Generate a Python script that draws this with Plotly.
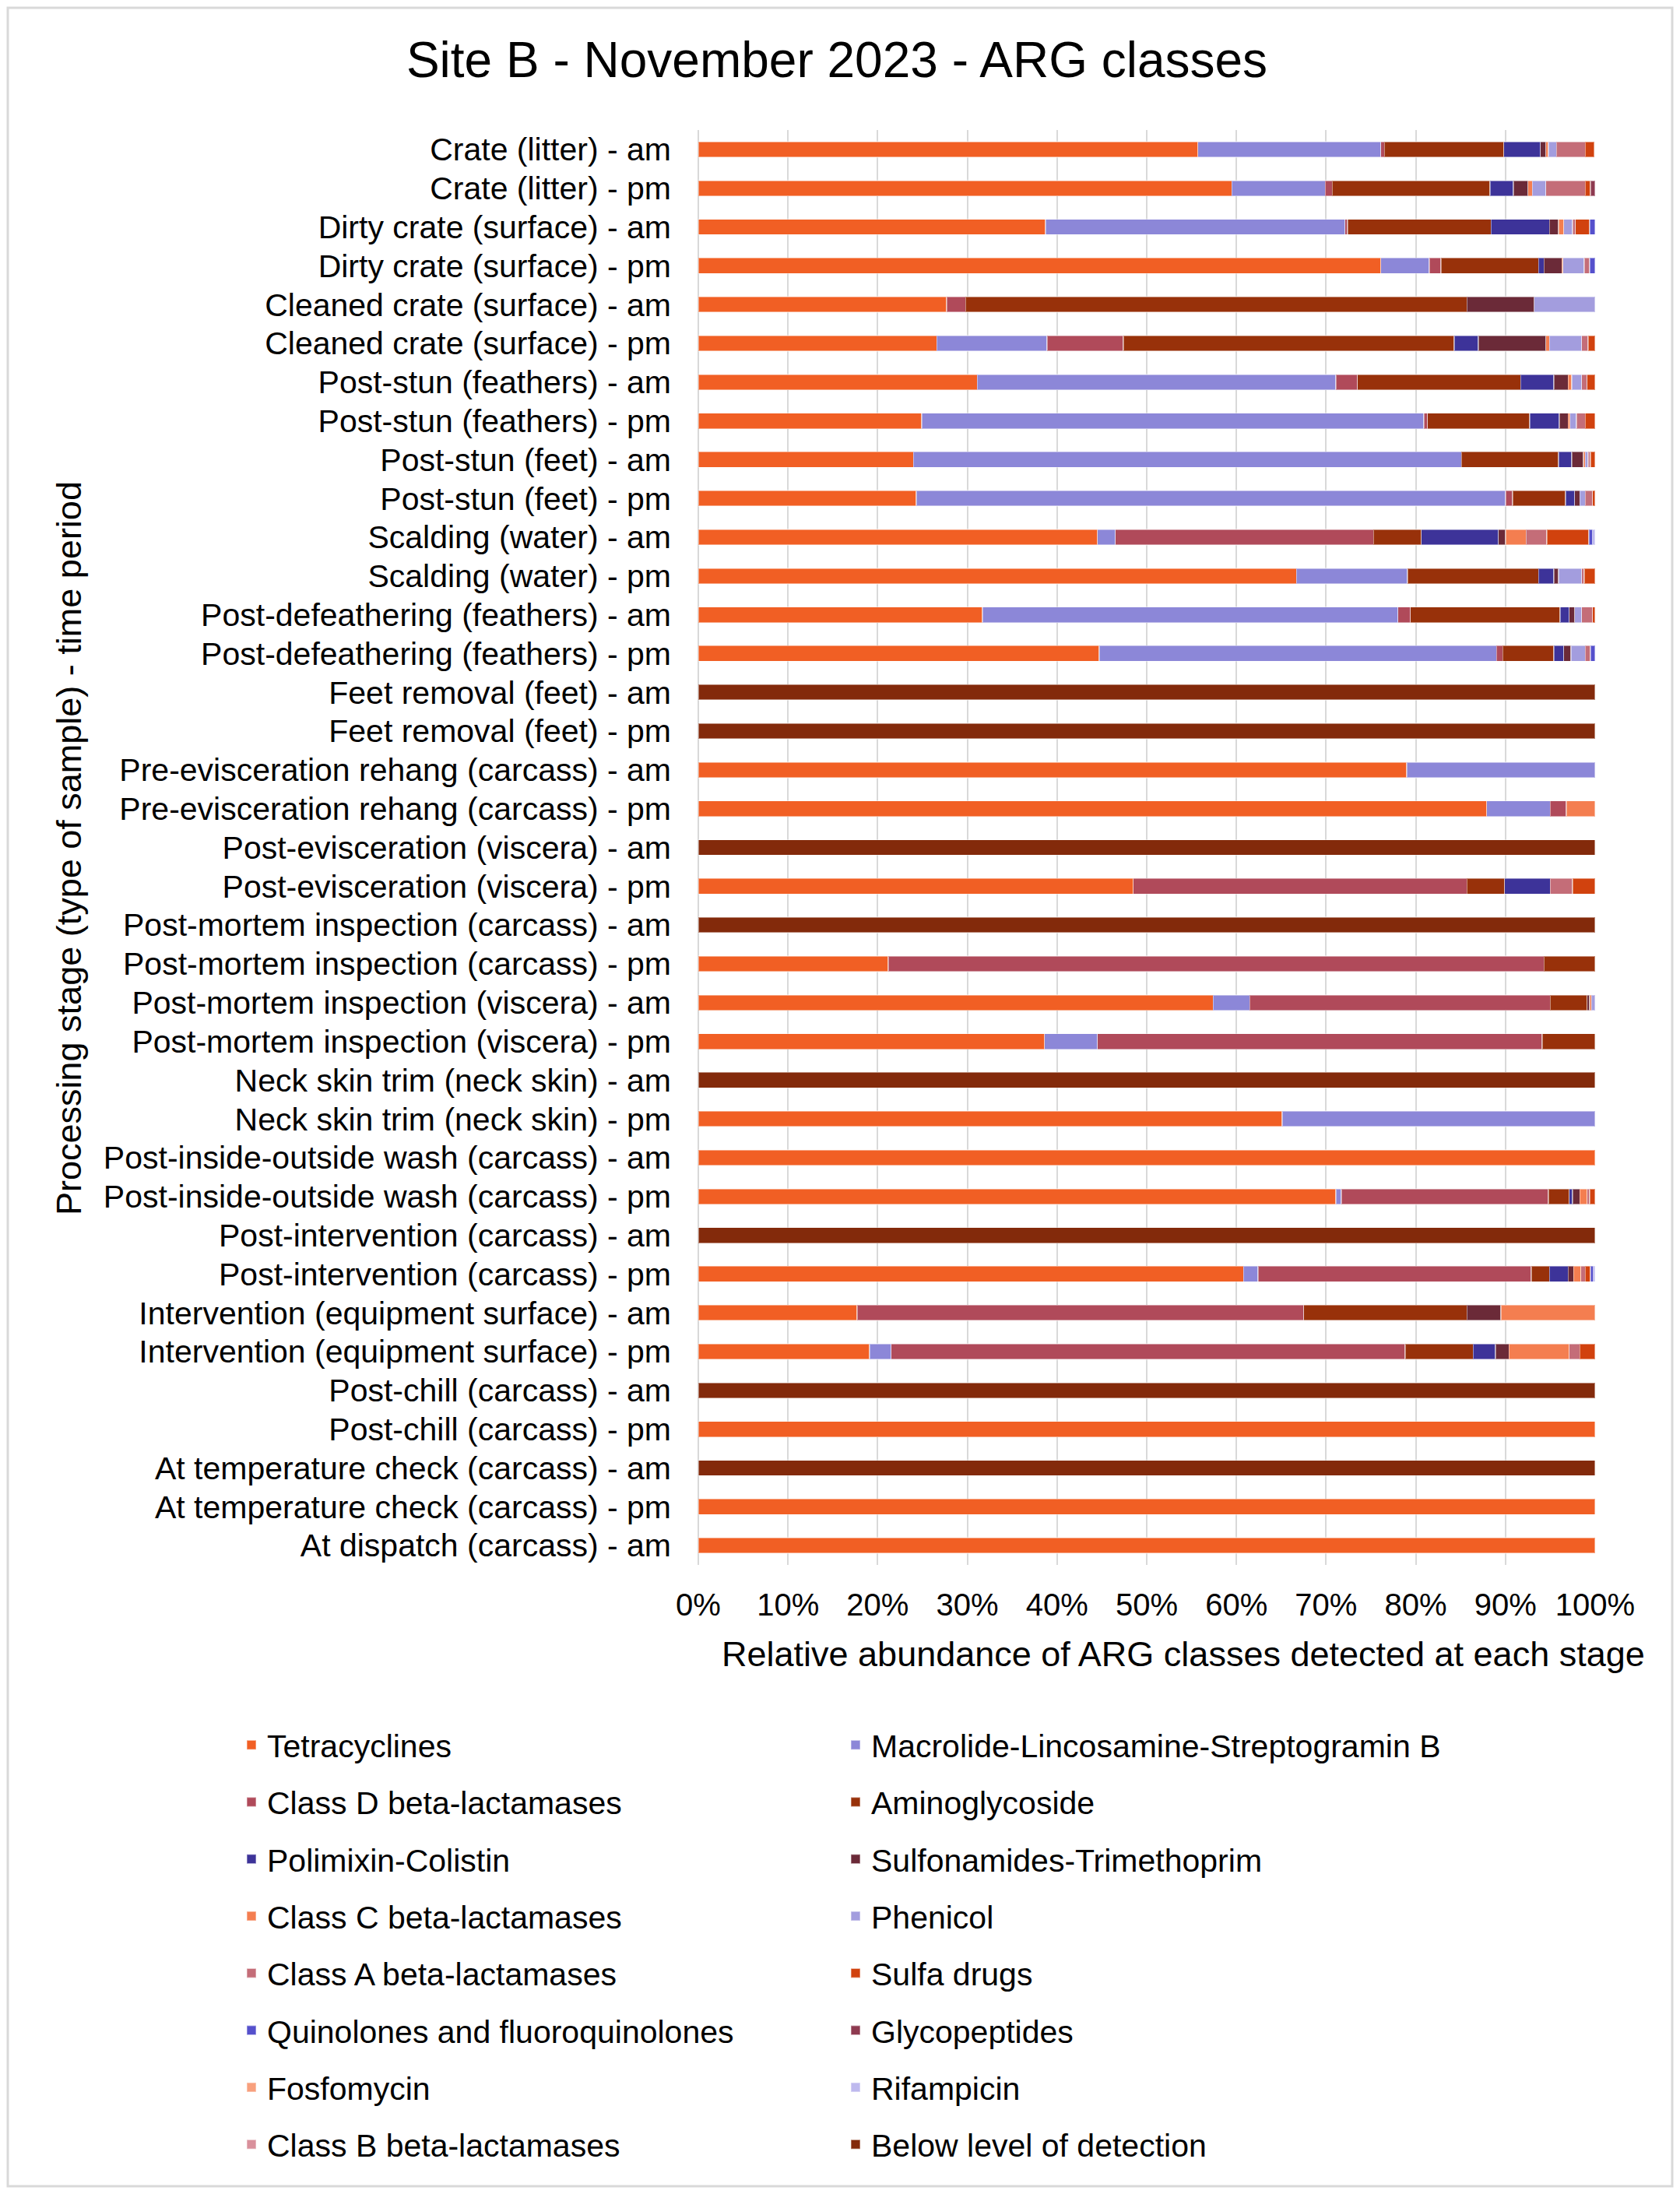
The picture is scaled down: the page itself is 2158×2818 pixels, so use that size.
import plotly.graph_objects as go

stages = [
    "Crate (litter) - am", "Crate (litter) - pm",
    "Dirty crate (surface) - am", "Dirty crate (surface) - pm",
    "Cleaned crate (surface) - am", "Cleaned crate (surface) - pm",
    "Post-stun (feathers) - am", "Post-stun (feathers) - pm",
    "Post-stun (feet) - am", "Post-stun (feet) - pm",
    "Scalding (water) - am", "Scalding (water) - pm",
    "Post-defeathering (feathers) - am", "Post-defeathering (feathers) - pm",
    "Feet removal (feet) - am", "Feet removal (feet) - pm",
    "Pre-evisceration rehang (carcass) - am", "Pre-evisceration rehang (carcass) - pm",
    "Post-evisceration (viscera) - am", "Post-evisceration (viscera) - pm",
    "Post-mortem inspection (carcass) - am", "Post-mortem inspection (carcass) - pm",
    "Post-mortem inspection (viscera) - am", "Post-mortem inspection (viscera) - pm",
    "Neck skin trim (neck skin) - am", "Neck skin trim (neck skin) - pm",
    "Post-inside-outside wash (carcass) - am", "Post-inside-outside wash (carcass) - pm",
    "Post-intervention (carcass) - am", "Post-intervention (carcass) - pm",
    "Intervention (equipment surface) - am", "Intervention (equipment surface) - pm",
    "Post-chill (carcass) - am", "Post-chill (carcass) - pm",
    "At temperature check (carcass) - am", "At temperature check (carcass) - pm",
    "At dispatch (carcass) - am",
]

tetracyclines = [55.7, 59.5, 38.7, 76.1, 27.7, 26.6, 31.1, 24.9, 24.0, 24.3, 44.5, 66.7, 31.7, 44.7, 0, 0, 79.0, 87.9, 0, 48.5, 0, 21.2, 57.4, 38.6, 0, 65.1, 100, 71.1, 0, 60.8, 17.7, 19.1, 0, 100, 0, 100, 100]
mlsb = [20.4, 10.4, 33.4, 5.4, 0, 12.3, 40.0, 56.0, 61.1, 65.7, 2.0, 12.4, 46.3, 44.3, 0, 0, 21.0, 7.1, 0, 0, 0, 0, 4.1, 5.9, 0, 34.9, 0, 0.6, 0, 1.6, 0, 2.4, 0, 0, 0, 0, 0]
class_d = [0.4, 0.8, 0.3, 1.3, 2.1, 8.5, 2.4, 0.4, 0, 0.8, 28.8, 0, 1.4, 0.7, 0, 0, 0, 1.8, 0, 37.2, 0, 73.1, 33.5, 49.6, 0, 0, 0, 23.1, 0, 30.5, 49.8, 57.3, 0, 0, 0, 0, 0]
aminoglycoside = [13.3, 17.6, 16.0, 10.9, 55.9, 36.9, 18.2, 11.4, 10.8, 5.9, 5.3, 14.6, 16.7, 5.7, 0, 0, 0, 0, 0, 4.2, 0, 5.7, 4.1, 5.9, 0, 0, 0, 2.3, 0, 2.0, 18.2, 7.6, 0, 0, 0, 0, 0]
polimixin = [4.1, 2.6, 6.5, 0.6, 0, 2.7, 3.7, 3.3, 1.5, 1.0, 8.6, 1.7, 1.0, 1.1, 0, 0, 0, 0, 0, 5.1, 0, 0, 0, 0, 0, 0, 0, 0.4, 0, 2.1, 0, 2.5, 0, 0, 0, 0, 0]
sulfonamides = [0.6, 1.6, 1.0, 2.0, 7.5, 7.5, 1.6, 1.0, 1.3, 0.6, 0.8, 0.5, 0.6, 0.8, 0, 0, 0, 0, 0, 0, 0, 0, 0.3, 0, 0, 0, 0, 0.8, 0, 0.6, 3.8, 1.5, 0, 0, 0, 0, 0]
class_c = [0.3, 0.5, 0.6, 0.1, 0, 0.4, 0.4, 0.2, 0.2, 0, 2.3, 0, 0, 0, 0, 0, 0, 3.2, 0, 0, 0, 0, 0.2, 0, 0, 0, 0, 0.8, 0, 0.8, 10.5, 6.7, 0, 0, 0, 0, 0]
phenicol = [0.9, 1.5, 1.0, 2.4, 6.8, 3.6, 1.1, 0.7, 0.3, 0.6, 0, 2.6, 0.8, 1.6, 0, 0, 0, 0, 0, 0, 0, 0, 0.4, 0, 0, 0, 0, 0, 0, 0, 0, 0, 0, 0, 0, 0, 0]
class_a = [3.2, 4.4, 0.3, 0.6, 0, 0.7, 0.6, 1.0, 0.3, 0.8, 2.3, 0.3, 1.2, 0.6, 0, 0, 0, 0, 0, 2.5, 0, 0, 0, 0, 0, 0, 0, 0.3, 0, 0.5, 0, 1.2, 0, 0, 0, 0, 0]
sulfa_drugs = [1.0, 0.6, 1.6, 0, 0, 0.8, 0.9, 1.1, 0.5, 0.3, 4.7, 1.2, 0.3, 0, 0, 0, 0, 0, 0, 2.5, 0, 0, 0, 0, 0, 0, 0, 0.6, 0, 0.6, 0, 1.7, 0, 0, 0, 0, 0]
quinolones = [0, 0, 0.6, 0.6, 0, 0, 0, 0, 0, 0, 0.4, 0, 0, 0.5, 0, 0, 0, 0, 0, 0, 0, 0, 0, 0, 0, 0, 0, 0, 0, 0.3, 0, 0, 0, 0, 0, 0, 0]
glycopeptides = [0, 0.5, 0, 0, 0, 0, 0, 0, 0, 0, 0, 0, 0, 0, 0, 0, 0, 0, 0, 0, 0, 0, 0, 0, 0, 0, 0, 0, 0, 0, 0, 0, 0, 0, 0, 0, 0]
fosfomycin = [0] * 37
rifampicin = [0, 0, 0, 0, 0, 0, 0, 0, 0, 0, 0.3, 0, 0, 0, 0, 0, 0, 0, 0, 0, 0, 0, 0, 0, 0, 0, 0, 0, 0, 0.2, 0, 0, 0, 0, 0, 0, 0]
class_b = [0] * 37
below_lod = [0, 0, 0, 0, 0, 0, 0, 0, 0, 0, 0, 0, 0, 0, 100, 100, 0, 0, 100, 0, 100, 0, 0, 0, 100, 0, 0, 0, 100, 0, 0, 0, 100, 0, 100, 0, 0]

class_names = [
    "Tetracyclines", "Macrolide-Lincosamine-Streptogramin B",
    "Class D beta-lactamases", "Aminoglycoside",
    "Polimixin-Colistin", "Sulfonamides-Trimethoprim",
    "Class C beta-lactamases", "Phenicol",
    "Class A beta-lactamases", "Sulfa drugs",
    "Quinolones and fluoroquinolones", "Glycopeptides",
    "Fosfomycin", "Rifampicin",
    "Class B beta-lactamases", "Below level of detection",
]
class_values = [tetracyclines, mlsb, class_d, aminoglycoside, polimixin, sulfonamides,
                class_c, phenicol, class_a, sulfa_drugs, quinolones, glycopeptides,
                fosfomycin, rifampicin, class_b, below_lod]
class_colors = ["#F15F24", "#8C87D8", "#B04A5A", "#98310A", "#3D3399", "#6B2A38",
                "#F47E50", "#A39DDE", "#C46D78", "#D1420E", "#5550CC", "#8E3A50",
                "#F8A07D", "#BEB9EE", "#D9909B", "#832A0B"]

xticks = [0, 10, 20, 30, 40, 50, 60, 70, 80, 90, 100]
xtick_labels = [f"{v}%" for v in xticks]

# figure geometry (pixels)
W, H = 2142, 2802
L, R, T, B = 889, 101, 159, 800
PW, PH = W - L - R, H - T - B
FONT = "Liberation Sans, Arial, sans-serif"


def px_x(fx):
    return (fx - L) / PW


def px_y(fy):
    return (H - B - fy) / PH


fig = go.Figure()
for i, (name, vals, col) in enumerate(zip(class_names, class_values, class_colors)):
    fig.add_trace(go.Bar(
        y=stages, x=[v if v else None for v in vals], name=name, orientation="h",
        marker=dict(color=col, line=dict(color="rgba(255,255,255,0.45)", width=1.5)),
        legend="legend" if i % 2 == 0 else "legend2",
        legendgroup=name,
    ))

legend_common = dict(
    font=dict(family=FONT, size=41, color="#000000"),
    traceorder="grouped", tracegroupgap=17, bgcolor="rgba(0,0,0,0)",
    xanchor="left", yanchor="top", orientation="v", itemclick=False, itemdoubleclick=False,
)

fig.update_layout(
    width=W, height=H,
    margin=dict(l=L, r=R, t=T, b=B, pad=0),
    paper_bgcolor="white", plot_bgcolor="white",
    barmode="stack", bargap=0.6,
    font=dict(family=FONT, color="#000000"),
    title=dict(text="Site B - November 2023 - ARG classes", x=1067 / W, y=1 - 69 / H,
               xanchor="center", yanchor="middle",
               font=dict(family=FONT, size=64, color="#000000")),
    xaxis=dict(range=[0, 100], tickvals=xticks, ticktext=xtick_labels,
               showgrid=True, gridcolor="#D9D9D9", gridwidth=2,
               zeroline=True, zerolinecolor="#D9D9D9", zerolinewidth=2,
               showline=False, ticks="", ticklabelstandoff=24,
               tickfont=dict(family=FONT, size=40, color="#000000"), fixedrange=True),
    yaxis=dict(autorange="reversed", showgrid=False, showline=False, ticks="",
               ticklabelstandoff=34,
               tickfont=dict(family=FONT, size=41, color="#000000"), fixedrange=True),
    legend=dict(x=px_x(335 - 40), y=px_y(2200), **legend_common),
    legend2=dict(x=px_x(1111 - 40), y=px_y(2200), **legend_common),
    showlegend=True,
)

fig.add_annotation(text="Relative abundance of ARG classes detected at each stage",
                   xref="paper", yref="paper", x=px_x(1512), y=px_y(2116),
                   xanchor="center", yanchor="middle", showarrow=False,
                   font=dict(family=FONT, size=45, color="#000000"))
fig.add_annotation(text="Processing stage (type of sample) - time period",
                   xref="paper", yref="paper", x=px_x(80), y=px_y(1082),
                   xanchor="center", yanchor="middle", showarrow=False, textangle=-90,
                   font=dict(family=FONT, size=45, color="#000000"))

fig.add_shape(type="rect", xref="paper", yref="paper",
              x0=px_x(2), x1=px_x(W - 2), y0=px_y(H - 2), y1=px_y(2),
              line=dict(color="#D9D9D9", width=3), fillcolor="rgba(0,0,0,0)", layer="below")

fig.write_html("out.html")
